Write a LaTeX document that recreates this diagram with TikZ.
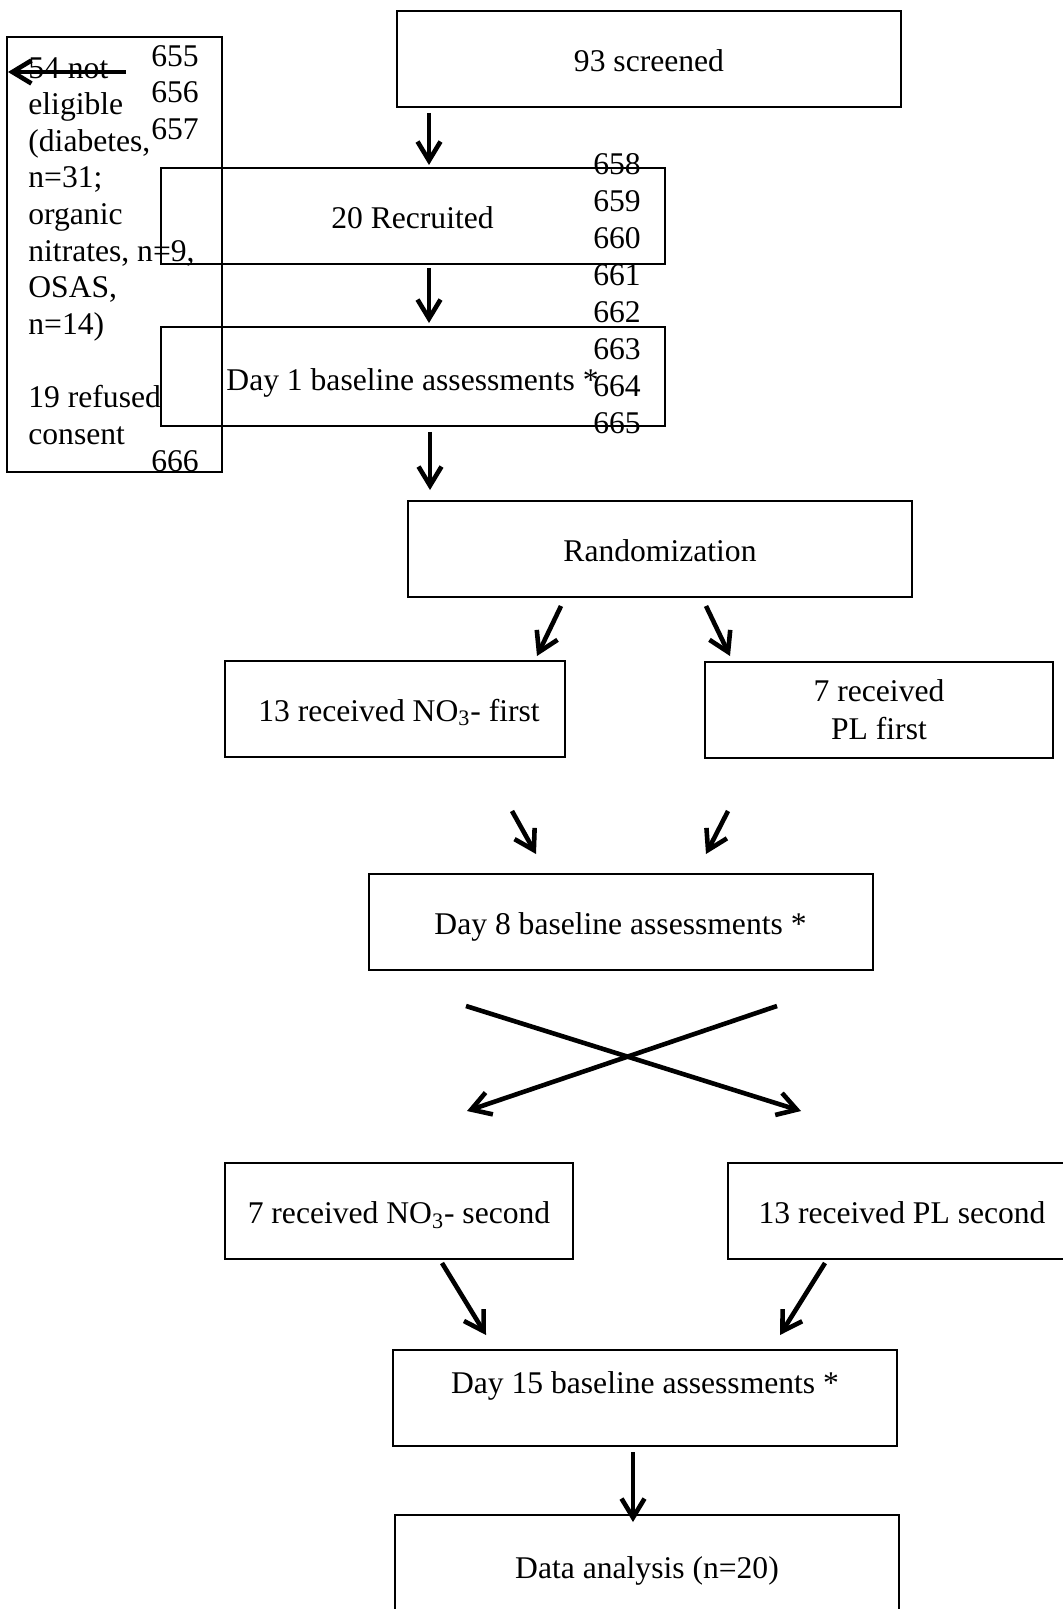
\documentclass[tikz,border=0pt]{standalone}
\usepackage{fontspec}
\setmainfont{Liberation Serif}
\usetikzlibrary{arrows.meta}

\begin{document}
\begin{tikzpicture}[x=0.5pt, y=-0.5pt,
    every node/.style={font=\fontsize{15.8}{18.3}\selectfont, inner sep=0pt},
    boxbase/.style={draw, line width=1pt, minimum width=252pt, minimum height=48pt, align=center},
    stagebox/.style={boxbase, text height=12.5pt, text depth=0pt},
    armbox/.style={stagebox, minimum width=174pt},
    arr/.style={line width=2.3pt, -{Straight Barb[length=9.5pt, width=11.5pt]}}]

    \useasboundingbox[fill=white] (0,0) rectangle (1062,1609);

    % main column
    \node[stagebox] (scr) at (649,59) {93 screened};
    \node[stagebox] (rec) at (412.5,216) {20 Recruited};
    \node[stagebox, minimum height=49.5pt, text height=14pt] (day1) at (412.5,376.5) {Day 1 baseline assessments *};
    \node[stagebox] (rand) at (660,549) {Randomization};

    % exclusions
    \node[draw, line width=1pt, minimum width=107.5pt, minimum height=217.5pt] (excl) at (114.5,254.5) {};
    \node[anchor=north west, align=left] (excltxt) at (28,57)
        {54 not\\eligible\\(diabetes,\\n=31;\\organic\\nitrates, n=9,\\OSAS,\\n=14)\\[18.3pt]19 refused\\consent};

    % first period
    \node[armbox, minimum width=170pt] (no3a) at (395,708.5) {\hspace{4pt}13 received NO\textsubscript{3}- first};
    \node[boxbase, minimum width=174pt, font=\fontsize{15.8}{19}\selectfont] (pla) at (879,710) {7 received\\PL first};
    \node[stagebox] (day8) at (620.5,922) {Day 8 baseline assessments *};

    % second period
    \node[armbox] (no3b) at (399,1211) {7 received NO\textsubscript{3}- second};
    \node[armbox] (plb) at (902,1211) {13 received PL second};
    \node[stagebox, text height=11pt, text depth=16pt] (day15) at (645,1398) {Day 15 baseline assessments *};
    \node[stagebox, minimum height=51pt] (data) at (647,1566) {Data analysis (n=20)};

    % line numbers
    \foreach \n/\y in {655/56, 656/92, 657/129, 666/461}
        \node (ln\n) at (175,\y) {\n};
    \foreach \n [count=\i from 0] in {658,...,665}
        \node (ln\n) at (617,{164+37*\i}) {\n};

    % arrow ends
    \coordinate (scr-s) at (429,113);   \coordinate (rec-n) at (429,165);
    \coordinate (rec-s) at (429,268);   \coordinate (day1-n) at (429,323);
    \coordinate (day1-s) at (430,432);  \coordinate (rand-n) at (430,490);
    \coordinate (rand-sl) at (561,606); \coordinate (no3a-n) at (537,656);
    \coordinate (rand-sr) at (706,606); \coordinate (pla-n) at (730,656);
    \coordinate (no3a-s) at (512,811);  \coordinate (day8-nl) at (536,854);
    \coordinate (pla-s) at (728,811);   \coordinate (day8-nr) at (706,854);
    \coordinate (day8-sl) at (466,1006); \coordinate (plb-n) at (801,1111);
    \coordinate (day8-sr) at (777,1006); \coordinate (no3b-n) at (467,1111);
    \coordinate (no3b-s) at (442,1263); \coordinate (day15-nl) at (486,1335);
    \coordinate (plb-s) at (825,1263);  \coordinate (day15-nr) at (780,1335);
    \coordinate (day15-s) at (633,1452); \coordinate (data-n) at (633,1522);
    \coordinate (excl-e) at (126,72);   \coordinate (excl-w) at (8,72);

    % arrows
    \draw[arr] (scr-s) -- (rec-n);
    \draw[arr] (rec-s) -- (day1-n);
    \draw[arr] (day1-s) -- (rand-n);
    \draw[arr] (rand-sl) -- (no3a-n);
    \draw[arr] (rand-sr) -- (pla-n);
    \draw[arr] (no3a-s) -- (day8-nl);
    \draw[arr] (pla-s) -- (day8-nr);
    \draw[arr] (day8-sl) -- (plb-n);
    \draw[arr] (day8-sr) -- (no3b-n);
    \draw[arr] (no3b-s) -- (day15-nl);
    \draw[arr] (plb-s) -- (day15-nr);
    \draw[arr] (day15-s) -- (data-n);
    \draw[arr] (excl-e) -- (excl-w);
\end{tikzpicture}
\end{document}
